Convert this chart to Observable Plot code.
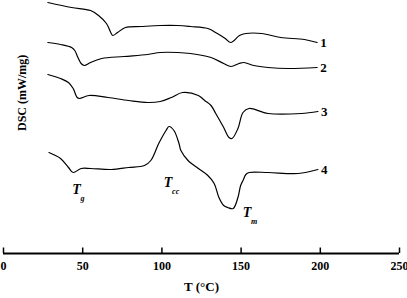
<!DOCTYPE html>
<html>
<head>
<meta charset="utf-8">
<script src="https://cdn.jsdelivr.net/npm/d3@7"></script>
<script src="https://cdn.jsdelivr.net/npm/@observablehq/plot@0.6"></script>
<style>
  html, body { margin: 0; padding: 0; background: #fff; }
  #chart svg { display: block; }
</style>
</head>
<body>
<div id="chart"></div>
<script>
// Temperature (°C) and DSC signal (arbitrary offset units, mW/mg)
const curve1T = [28, 43, 55, 60, 65, 68, 69, 72, 77, 87, 99, 110, 118, 129, 135, 140, 143.5, 149, 153, 163, 175, 190, 198];
const curve1V = [25.1, 24.6, 24.3, 23.8, 23.0, 22.0, 21.8, 22.1, 22.6, 22.7, 22.8, 22.8, 22.7, 22.5, 22.0, 21.5, 21.1, 21.8, 22.0, 22.0, 21.6, 21.4, 21.1];

const curve2T = [28, 36, 43, 45, 47, 49, 51, 55, 62, 76, 91, 99, 110, 118, 131, 139, 143.6, 148.7, 151.8, 158, 167, 180, 198];
const curve2V = [21.1, 20.9, 20.6, 20.3, 19.6, 19.0, 18.8, 19.1, 19.5, 19.7, 19.9, 20.1, 20.1, 20.0, 19.6, 19.0, 18.7, 19.0, 19.1, 18.8, 18.6, 18.5, 18.6];

const curve3T = [28, 36, 41, 44, 46.5, 48, 54, 66, 79, 91, 99, 106, 113, 123, 127, 131, 134, 139, 142.4, 144.3, 148, 151.2, 155, 167, 188, 198.5];
const curve3V = [17.9, 17.5, 17.1, 16.5, 15.6, 15.5, 15.8, 15.6, 15.3, 15.1, 15.2, 15.6, 16.1, 15.8, 15.3, 14.8, 14.0, 12.6, 11.6, 11.5, 12.5, 14.1, 14.5, 14.0, 14.0, 14.2];

const curve4T = [28.7, 36, 41, 44, 49, 55, 68, 79, 89, 93, 98, 102.6, 104.5, 107.6, 110.8, 112, 116.5, 123, 129, 133, 136, 139, 141.5, 145, 148, 149.7, 151.2, 153, 155, 167, 186, 198.5];
const curve4V = [10.1, 9.5, 8.6, 8.1, 8.5, 8.5, 8.4, 8.6, 8.8, 9.3, 11.0, 12.3, 12.7, 12.3, 11.0, 10.3, 9.3, 8.5, 7.8, 7.0, 5.6, 4.8, 4.6, 4.5, 5.6, 6.8, 7.3, 7.9, 8.1, 8.1, 8.0, 8.4];

const curveNames = ["1", "2", "3", "4"];
const xTicks = [0, 50, 100, 150, 200, 250];

// Transition annotations: position (T, signal) and subscript
const annT = [46.1, 103.9, 153.7];
const annV = [6.4, 7.1, 4.1];
const annSub = ["g", "cc", "m"];

const yLabel = "DSC (mW/mg)";
const xLabel = "T (°C)";

const series = [
  [curve1T, curve1V], [curve2T, curve2V], [curve3T, curve3V], [curve4T, curve4V]
];
const rows = [];
series.forEach(([ts, vs], i) => ts.forEach((t, j) => rows.push({id: curveNames[i], T: t, v: vs[j]})));
const ends = series.map(([ts, vs], i) => ({id: curveNames[i], T: ts[ts.length - 1], v: vs[vs.length - 1]}));
const anns = annT.map((t, i) => ({T: t, v: annV[i], sub: annSub[i]}));

const font = "'Liberation Serif', 'Times New Roman', serif";

const chart = Plot.plot({
  width: 407,
  height: 298,
  marginLeft: 3,
  marginRight: 8,
  marginTop: 0,
  marginBottom: 45,
  x: {domain: [0, 250], axis: null},
  y: {domain: [0, 25.3], axis: null},
  style: {fontFamily: font, background: "#fff", color: "#000", overflow: "visible"},
  marks: [
    Plot.line(rows, {x: "T", y: "v", z: "id", curve: "catmull-rom", stroke: "#000", strokeWidth: 1.2}),
    Plot.text(ends, {x: "T", y: "v", text: "id", textAnchor: "start", dx: 3, fontSize: 13, fontWeight: "bold", fill: "#000"}),
    Plot.text(anns, {x: "T", y: "v", text: () => "T", fontSize: 14, fontWeight: "bold", fontStyle: "italic", fill: "#000"}),
    Plot.text(anns, {x: "T", y: "v", text: "sub", textAnchor: "start", dx: 4, dy: 9, fontSize: 8, fontWeight: "bold", fontStyle: "italic", fill: "#000"}),
    Plot.ruleY([0], {stroke: "#000", strokeWidth: 2}),
    Plot.ruleX(xTicks, {y1: 0, y2: 0.55, stroke: "#000", strokeWidth: 1.5}),
    Plot.axisX(xTicks, {tickSize: 0, tickPadding: 8, fontSize: 12, fontWeight: "bold", label: null, fill: "#000"}),
    Plot.text([xLabel], {frameAnchor: "bottom", dy: 37, fontSize: 13, fontWeight: "bold", fill: "#000"}),
    Plot.text([yLabel], {frameAnchor: "left", rotate: -90, dx: 19, dy: 4, fontSize: 12, fontWeight: "bold", fill: "#000"})
  ]
});
document.getElementById("chart").appendChild(chart);
</script>
</body>
</html>
